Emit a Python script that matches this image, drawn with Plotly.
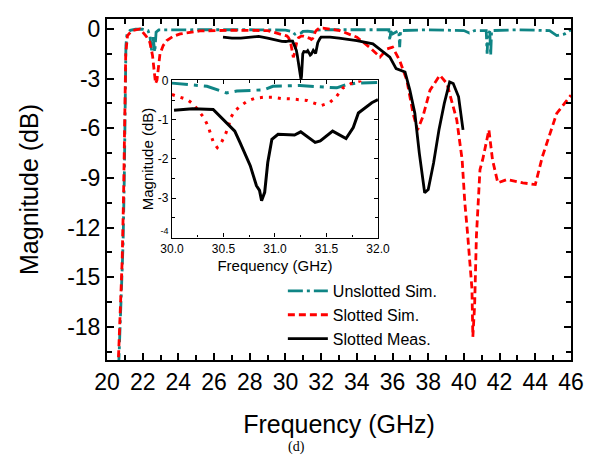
import plotly.graph_objects as go

# ---------------- data ----------------
unslot_f = [20.65, 20.8, 20.9, 20.97, 21.02, 21.06, 21.12, 21.3, 21.6, 22.0, 22.3, 22.4, 22.5, 22.58, 22.68,
            22.75, 22.9, 23.5, 25.0, 28.0,
            30.0, 30.34, 30.53, 30.63, 30.89, 30.98, 31.24, 31.5, 31.6, 31.69, 31.79, 32.0,
            34.0, 35.8, 35.85, 35.9, 36.0, 36.35, 36.4, 36.45, 38.0, 40.0, 40.3, 40.6,
            41.25, 41.3, 41.35, 41.45, 41.5, 41.55, 43.0, 44.8, 45.2, 45.65, 46.0]
unslot_v = [-20.5, -16.0, -13.0, -9.0, -4.0, -1.0, -0.3, -0.08, -0.02, -0.02, -0.1, -0.4, -1.3, -0.5, -1.4,
            -0.2, -0.06, -0.05, -0.05, -0.05,
            -0.07, -0.15, -0.32, -0.27, -0.24, -0.15, -0.13, -0.17, -0.19, -0.11, -0.07, -0.05,
            -0.05, -0.05, -0.7, -0.15, -0.3, -0.1, -1.1, -0.1, -0.05, -0.1, -0.25, -0.1,
            -0.1, -1.5, -0.15, -0.2, -1.6, -0.1, -0.05, -0.1, -0.4, -0.3, -0.05]

slot_f = [20.62, 20.75, 20.85, 20.93, 21.0, 21.05, 21.15, 21.4, 21.85, 22.0, 22.2, 22.4, 22.55, 22.65, 22.72,
          22.8, 22.97, 23.15, 23.35, 23.7, 24.1, 25.2, 27.0, 29.0,
          30.0, 30.07, 30.15, 30.21, 30.31, 30.35, 30.37, 30.4, 30.44, 30.48, 30.52, 30.55, 30.57, 30.61,
          30.66, 30.73, 30.81, 30.89, 30.98, 31.06, 31.15, 31.23, 31.31, 31.37, 31.45, 31.53, 31.6, 31.66,
          31.74, 31.81, 31.9, 32.1,
          33.05, 34.0, 34.7, 35.3, 35.7, 36.0, 36.4, 36.8, 37.15, 37.4, 37.7, 38.1, 38.65, 39.05, 39.6,
          39.9, 40.05, 40.2, 40.45, 40.5, 40.6, 40.7, 40.9, 41.05, 41.4, 41.6, 41.9, 42.4, 43.3, 44.0,
          44.4, 45.2, 46.0]
slot_v = [-20.5, -17.0, -14.0, -10.0, -5.0, -1.5, -0.4, -0.1, 0.0, -0.2, -0.45, -0.8, -1.6, -2.6, -3.3,
          -3.1, -1.5, -1.0, -0.7, -0.45, -0.3, -0.12, -0.08, -0.1,
          -0.36, -0.42, -0.49, -0.61, -0.95, -1.16, -1.33, -1.56, -1.71, -1.58, -1.37, -1.16, -0.95, -0.78,
          -0.66, -0.53, -0.45, -0.43, -0.43, -0.46, -0.47, -0.49, -0.51, -0.57, -0.64, -0.57, -0.40, -0.19,
          -0.08, -0.03, 0.05, 0.05,
          -0.1, -0.5, -1.1, -1.7, -1.2, -1.1, -1.9, -3.1, -5.1, -6.1, -5.3, -3.7, -2.8, -3.3, -5.5,
          -7.9, -10.5, -12.3, -15.7, -18.6, -16.7, -12.5, -8.5, -7.9, -6.1, -7.9, -9.3, -9.1, -9.3, -9.4,
          -7.7, -5.1, -4.0]

meas_f = [26.5, 27.0, 27.5, 28.0, 28.5, 29.0, 29.5, 29.8,
          30.02, 30.2, 30.4, 30.5, 30.61, 30.66, 30.76, 30.82, 30.85, 30.87, 30.9, 30.93, 30.97, 31.03,
          31.19, 31.25, 31.39, 31.44, 31.56, 31.69, 31.76, 31.81, 31.94, 32.0,
          32.5, 33.0, 34.0, 34.9, 35.85, 36.2, 36.7, 36.97, 37.25, 37.5, 37.8, 38.0, 38.3, 38.6, 38.9,
          39.2, 39.4, 39.7, 39.95]
meas_v = [-0.5, -0.55, -0.55, -0.5, -0.45, -0.55, -0.7, -0.75,
          -0.76, -0.72, -0.74, -0.99, -1.29, -1.58, -2.17, -2.68, -2.8, -3.06, -2.85, -2.09, -1.5, -1.37,
          -1.39, -1.31, -1.58, -1.54, -1.29, -1.48, -1.2, -0.83, -0.57, -0.49,
          -0.5, -0.55, -0.7, -0.9, -1.7, -2.4, -2.6, -3.7, -5.1, -7.5, -9.9, -9.7, -8.1, -6.1, -4.5,
          -3.2, -3.3, -4.1, -6.1]

x_ticks = list(range(20, 47, 2))
y_ticks = [0, -3, -6, -9, -12, -15, -18]
y_tick_text = ["0", "-3", "-6", "-9", "-12", "-15", "-18"]
inset_x_ticks = [30.0, 30.5, 31.0, 31.5, 32.0]
inset_x_text = ["30.0", "30.5", "31.0", "31.5", "32.0"]
inset_y_ticks = [0, -1, -2, -3, -4]
inset_y_text = ["0", "-1", "-2", "-3", "-4"]

TEAL = "#0f8585"
RED = "#ff0000"
BLACK = "#000000"
FONT = "Liberation Sans, Arial, sans-serif"


def sub(f, v, lo=29.95, hi=32.05):
    pts = [(a, b) for a, b in zip(f, v) if lo <= a <= hi]
    return [p[0] for p in pts], [p[1] for p in pts]


fig = go.Figure()

fig.add_trace(go.Scatter(x=unslot_f, y=unslot_v, mode="lines", name="Unslotted Sim.",
                         line=dict(color=TEAL, width=2.8, dash="15px,4px,3px,4px")))
fig.add_trace(go.Scatter(x=slot_f, y=slot_v, mode="lines", name="Slotted Sim.",
                         line=dict(color=RED, width=2.8, dash="7px,4px")))
fig.add_trace(go.Scatter(x=meas_f, y=meas_v, mode="lines", name="Slotted Meas.",
                         line=dict(color=BLACK, width=2.8)))

# inset
uf, uv = sub(unslot_f, unslot_v)
sf, sv = sub(slot_f, slot_v)
mf, mv = sub(meas_f, meas_v)
fig.add_trace(go.Scatter(x=uf, y=uv, mode="lines", showlegend=False, xaxis="x2", yaxis="y2",
                         line=dict(color=TEAL, width=3, dash="16px,6px,4px,6px")))
fig.add_trace(go.Scatter(x=sf, y=sv, mode="lines", showlegend=False, xaxis="x2", yaxis="y2",
                         line=dict(color=RED, width=3, dash="3px,6px")))
fig.add_trace(go.Scatter(x=mf, y=mv, mode="lines", showlegend=False, xaxis="x2", yaxis="y2",
                         line=dict(color=BLACK, width=3)))

axis_common = dict(showgrid=False, zeroline=False, showline=True, linecolor="black",
                   mirror="ticks", ticks="inside", tickcolor="black")

# the "-4" label of the inset is printed small and slightly raised in the reference
inset_y_labels = [t if t != "-4" else
                  "<span style='font-size:9px'>-4</span><br><span style='font-size:7px'> </span>"
                  for t in inset_y_text]

fig.update_layout(
    width=596, height=457,
    margin=dict(l=107, r=25, t=15, b=97),
    paper_bgcolor="white", plot_bgcolor="white",
    font=dict(family=FONT, color="black"),
    xaxis=dict(**axis_common, range=[20, 46], tickvals=x_ticks, linewidth=2, ticklen=7, tickwidth=1.5,
               tickfont=dict(size=23),
               minor=dict(dtick=1, ticks="inside", ticklen=5, tickcolor="black", tickwidth=1.5),
               title=dict(text="Frequency (GHz)", font=dict(size=25), standoff=22)),
    yaxis=dict(**axis_common, range=[-20, 0.6], tickvals=y_ticks, ticktext=y_tick_text, linewidth=2,
               ticklen=7, tickwidth=1.5, tickfont=dict(size=23),
               minor=dict(dtick=1.5, tick0=0, ticks="inside", ticklen=5, tickcolor="black", tickwidth=1.5),
               title=dict(text="Magnitude (dB)", font=dict(size=25), standoff=21)),
    xaxis2=dict(**axis_common, domain=[0.140, 0.584], anchor="y2", range=[30, 32],
                tickvals=inset_x_ticks, ticktext=inset_x_text, linewidth=1.2, ticklen=4,
                tickfont=dict(size=12),
                minor=dict(dtick=0.25, tick0=30, ticks="inside", ticklen=2.5, tickcolor="black"),
                title=dict(text="Frequency (GHz)", font=dict(size=15), standoff=5)),
    yaxis2=dict(**axis_common, domain=[0.359, 0.820], anchor="x2", range=[-4, 0],
                tickvals=inset_y_ticks, ticktext=inset_y_labels, linewidth=1.2, ticklen=4,
                tickfont=dict(size=12), ticklabelstandoff=0,
                minor=dict(dtick=0.5, tick0=0, ticks="inside", ticklen=2.5, tickcolor="black"),
                title=dict(text="Magnitude (dB)", font=dict(size=15), standoff=0)),
    legend=dict(x=0.379, y=0.252, xanchor="left", yanchor="top", bgcolor="rgba(0,0,0,0)",
                font=dict(size=16), itemwidth=40, tracegroupgap=0),
    annotations=[dict(text="(d)", x=0.409, y=-0.255, xref="paper", yref="paper", showarrow=False,
                      xanchor="center", yanchor="middle",
                      font=dict(family="Liberation Serif, Times New Roman, serif", size=14))],
)

fig.write_html("out.html")
